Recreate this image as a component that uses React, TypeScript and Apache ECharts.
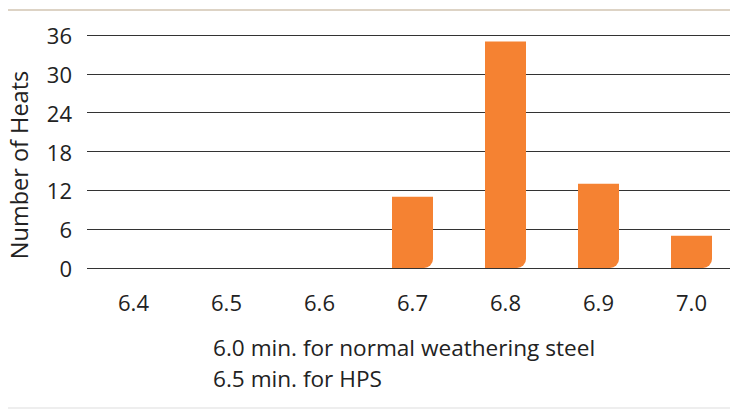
import React, { useEffect, useRef } from "react";
import * as echarts from "echarts";

const categories = ["6.4", "6.5", "6.6", "6.7", "6.8", "6.9", "7.0"];
const heats = [0, 0, 0, 11, 35, 13, 5];
const yTicks = { min: 0, max: 36, interval: 6 };
const yName = "Number of Heats";
const notes = ["6.0 min. for normal weathering steel", "6.5 min. for HPS"];

export default function App() {
  const ref = useRef<HTMLDivElement>(null);
  useEffect(() => {
    const chart = echarts.init(ref.current!, undefined, { renderer: "svg" });
    const font = "'Open Sans', 'Noto Sans', sans-serif";
    chart.setOption({
      animation: false,
      textStyle: { fontFamily: font },
      grid: { left: 87, right: -8, top: 35, bottom: 143, outerBoundsMode: "none", containLabel: false },
      xAxis: {
        type: "category",
        data: categories,
        axisLine: { show: false },
        axisTick: { show: false },
        axisLabel: { color: "#222", fontSize: 22, margin: 23, fontFamily: font },
      },
      yAxis: {
        type: "value",
        min: yTicks.min,
        max: yTicks.max,
        interval: yTicks.interval,
        axisLine: { show: false },
        axisTick: { show: false },
        axisLabel: { color: "#222", fontSize: 22, margin: 15, fontFamily: font },
        splitLine: { lineStyle: { color: "#333", width: 1.2 } },
      },
      series: [
        {
          type: "bar",
          data: heats,
          barWidth: 41,
          itemStyle: { color: "#F58232", borderRadius: [0, 0, 9, 0] },
        },
      ],
      graphic: [
        { type: "line", shape: { x1: 8, y1: 10, x2: 730, y2: 10 }, style: { stroke: "#DDD3C5", lineWidth: 2 } },
        { type: "line", shape: { x1: 8, y1: 408, x2: 730, y2: 408 }, style: { stroke: "#EEEEEE", lineWidth: 2 } },
        {
          type: "text", x: 19, y: 165, rotation: Math.PI / 2,
          style: { text: yName, fill: "#222", fontSize: 23.5, fontFamily: font, align: "center", verticalAlign: "middle" },
        },
        { type: "text", x: 213, y: 347, style: { text: notes[0], fill: "#222", fontSize: 22.6, fontFamily: font, verticalAlign: "middle" } },
        { type: "text", x: 213, y: 378, style: { text: notes[1], fill: "#222", fontSize: 22.6, fontFamily: font, verticalAlign: "middle" } },
      ],
    });
    return () => chart.dispose();
  }, []);
  return <div ref={ref} style={{ width: 730, height: 411, position: "absolute", left: 0, top: 0 }} />;
}
